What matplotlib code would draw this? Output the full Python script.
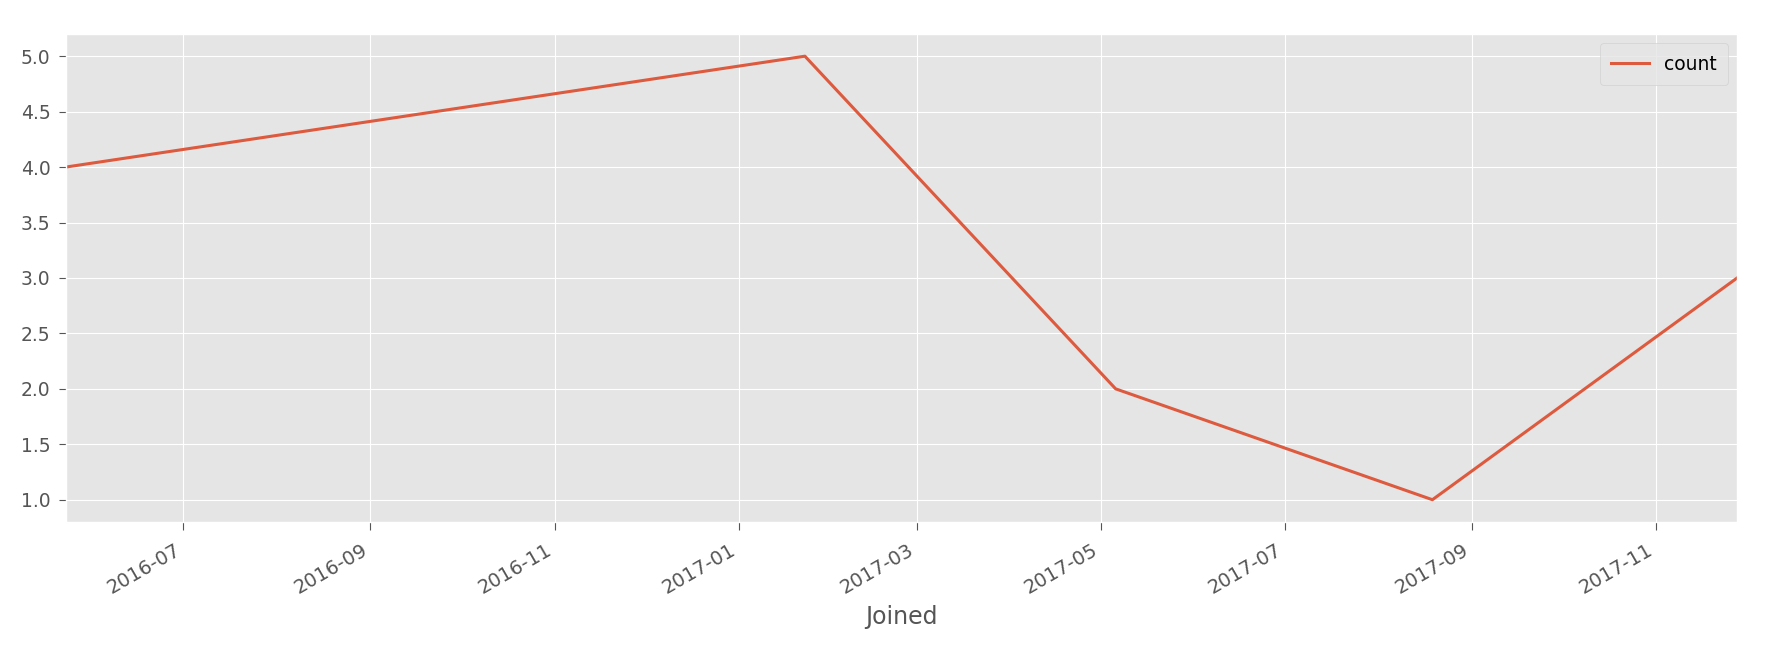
import numpy as np
import pandas as pd
import matplotlib
matplotlib.use("Agg")
import matplotlib.pyplot as plt
import matplotlib.dates as mdates

## monthly join counts

plt.style.use("ggplot")
plt.rcParams['font.size'] = 13.5

joined = pd.to_datetime(["2016-05-23", "2017-01-23", "2017-05-06", "2017-08-19", "2017-11-28"])
count = [4, 5, 2, 1, 3]

fig = plt.figure(figsize=(17.78, 6.54), dpi=100)
fig.patch.set_facecolor("white")
ax = fig.add_axes([0.037, 0.202, 0.940, 0.746])

ax.plot(joined, count, color="#DD5A3E", lw=2.2, label="count")
ax.set_xlim(joined[0], joined[-1])
ax.set_ylim(0.8, 5.2)
ax.set_yticks(np.arange(1.0, 5.01, 0.5))

ax.xaxis.set_major_locator(mdates.MonthLocator(bymonth=[1, 3, 5, 7, 9, 11]))
ax.xaxis.set_major_formatter(mdates.DateFormatter("%Y-%m"))
ax.tick_params(axis="x", length=6, pad=7, labelsize=14)
ax.tick_params(axis="y", length=5, pad=6, labelsize=13.5)
for lbl in ax.get_xticklabels():
    lbl.set_rotation(30)
    lbl.set_ha("right")

ax.set_xlabel("Joined", fontsize=17, color="#555555", labelpad=6)
ax.legend(loc="upper right", fontsize=13.5, borderpad=0.6)

fig.savefig("out.png", dpi=100)
